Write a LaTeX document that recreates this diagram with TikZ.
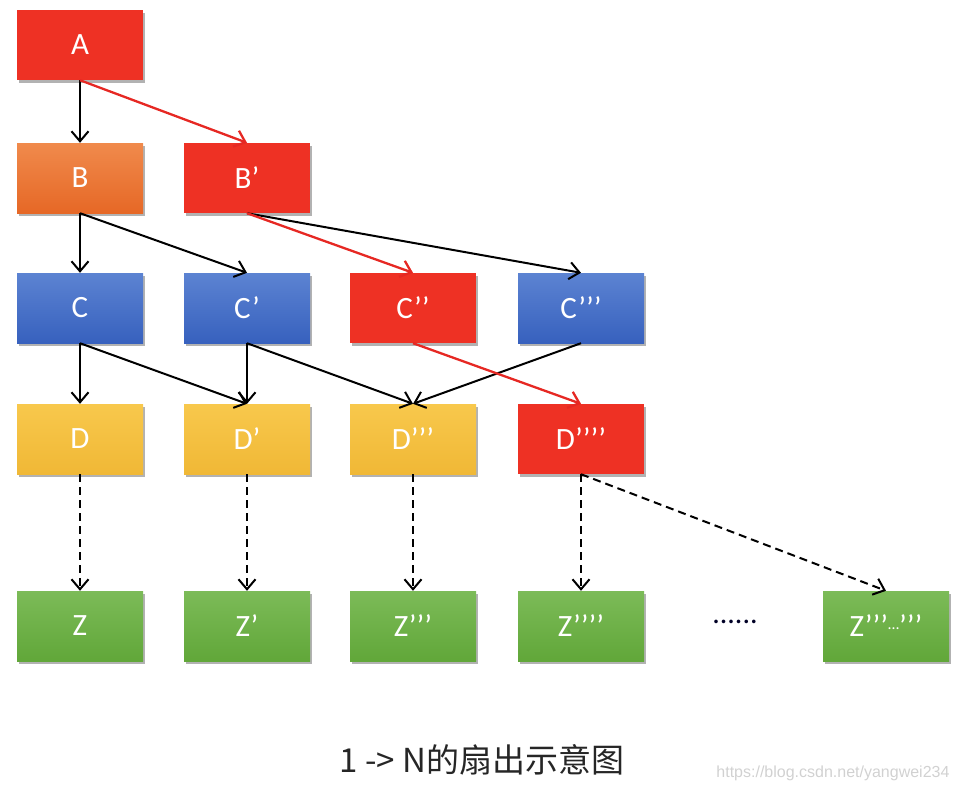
\documentclass[tikz,border=0pt]{standalone}
\usepackage{fontspec}
\setmainfont{Carlito}
\newfontfamily\cjk{Noto Sans CJK SC}
\newfontfamily\wmfont{Liberation Sans}
\usetikzlibrary{arrows.meta,shadows}
\definecolor{cred}{RGB}{238,49,36}
\definecolor{corangeT}{RGB}{240,138,76}
\definecolor{corangeB}{RGB}{230,104,38}
\definecolor{cblueT}{RGB}{92,131,210}
\definecolor{cblueB}{RGB}{55,97,190}
\definecolor{cyelT}{RGB}{248,200,76}
\definecolor{cyelB}{RGB}{240,184,54}
\definecolor{cgreenT}{RGB}{124,187,88}
\definecolor{cgreenB}{RGB}{97,167,57}
\definecolor{carrowred}{RGB}{230,40,35}
\tikzset{
  box/.style={minimum width=126pt, minimum height=70pt, inner sep=0pt,
    text=white, font=\fontsize{31}{34}\selectfont,
    drop shadow={shadow xshift=2pt, shadow yshift=-3pt, opacity=0.3, fill=black}},
  redbox/.style={box, fill=cred},
  orangebox/.style={box, top color=corangeT, bottom color=corangeB},
  bluebox/.style={box, top color=cblueT, bottom color=cblueB},
  yelbox/.style={box, top color=cyelT, bottom color=cyelB},
  greenbox/.style={box, top color=cgreenT, bottom color=cgreenB},
  arr/.style={draw=black, line width=2pt, -{Straight Barb[length=10pt,width=17pt]}},
  redarr/.style={draw=carrowred, line width=2.3pt, -{Straight Barb[length=10pt,width=17pt]}},
  darr/.style={arr, dash pattern=on 8pt off 5pt},
}
\begin{document}
\begin{tikzpicture}[x=1pt,y=-1pt]
\useasboundingbox (0,0) rectangle (962,790);
% row A
\node[redbox] (A) at (80,45) {A};
% row B
\node[orangebox] (B) at (80,178) {B};
\node[redbox] (B1) at (247,178) {B’};
% row C
\node[bluebox] (C) at (80,308) {C};
\node[bluebox] (C1) at (247,308) {C’};
\node[redbox] (C2) at (413,308) {C’’};
\node[bluebox] (C3) at (581,308) {C’’’};
% row D
\node[yelbox] (D) at (80,439) {D};
\node[yelbox] (D1) at (247,439) {D’};
\node[yelbox] (D2) at (413,439) {D’’’};
\node[redbox] (D3) at (581,439) {D’’’’};
% row Z
\node[greenbox] (Z) at (80,626) {Z};
\node[greenbox] (Z1) at (247,626) {Z’};
\node[greenbox] (Z2) at (413,626) {Z’’’};
\node[greenbox] (Z3) at (581,626) {Z’’’’};
\node[greenbox] (Z4) at (886,626) {Z’’’\raisebox{7pt}{\fontsize{16}{18}\selectfont…}’’’};
\node[font=\fontsize{30}{32}\selectfont, text=black!85!blue] (dots) at (735,622) {......};
% arrows
\draw[arr] (A.south) -- (B.north);
\draw[redarr] (A.south) -- (B1.north);
\draw[arr] (B.south) -- (C.north);
\draw[arr] (B.south) -- (C1.north);
\draw[arr] (B1.south) -- (C3.north);
\draw[redarr] (B1.south) -- (C2.north);
\draw[arr] (C.south) -- (D.north);
\draw[arr] (C.south) -- (D1.north);
\draw[arr] (C1.south) -- (D1.north);
\draw[arr] (C1.south) -- (D2.north);
\draw[arr] (C3.south) -- (D2.north);
\draw[redarr] (C2.south) -- (D3.north);
\draw[darr] (D.south) -- (Z.north);
\draw[darr] (D1.south) -- (Z1.north);
\draw[darr] (D2.south) -- (Z2.north);
\draw[darr] (D3.south) -- (Z3.north);
\draw[darr] (D3.south) -- (Z4.north);
% caption
\node[font=\cjk\fontsize{33}{36}\selectfont, text=black!85] (cap) at (482,760) {1 -> N的扇出示意图};
\node[font=\wmfont\fontsize{16}{18}\selectfont, text=black!18, anchor=east] (wm) at (953,773) {https://blog.csdn.net/yangwei234};
\end{tikzpicture}
\end{document}
